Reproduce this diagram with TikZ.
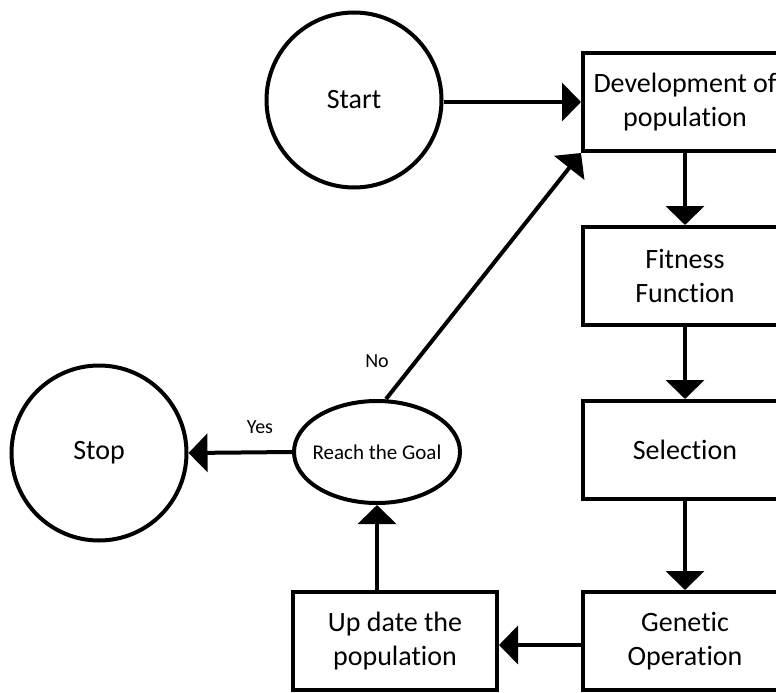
\documentclass[tikz,border=0pt]{standalone}
\usepackage{fontspec}
\setmainfont{Carlito}[Ligatures={NoCommon}]
\usetikzlibrary{arrows.meta,shapes.geometric}
\begin{document}
\begin{tikzpicture}[x=1pt,y=-1pt,
  every node/.style={inner sep=0pt, line width=4pt},
  stepbox/.style={draw, rectangle, minimum width=204pt, minimum height=98pt,
    align=center, font=\fontsize{28}{34}\selectfont},
  terminal/.style={draw, circle, minimum size=175pt, font=\fontsize{28}{34}\selectfont},
  decision/.style={draw, ellipse, minimum width=166pt, minimum height=102pt},
  flow/.style={line width=4pt, -{Triangle[length=19pt,width=38pt]}},
  lbl/.style={font=\fontsize{20}{24}\selectfont}
]
\useasboundingbox (0,0) rectangle (776,693);
\clip (0,0) rectangle (776,693);

% terminals
\node[terminal] (start) at (354,100) {Start};
\node[terminal] (stop) at (99,453) {Stop};

% process steps
\node[stepbox] (dev) at (685,102) {Development of\\population};
\node[stepbox] (fit) at (685,276) {Fitness\\Function};
\node[stepbox] (sel) at (685,450) {Selection};
\node[stepbox] (gen) at (685,641) {Genetic\\Operation};
\node[stepbox] (upd) at (395,641) {Up date the\\population};

% decision (text placed as a centred label so the ellipse keeps its size)
\node[decision, label={[font=\fontsize{21}{25}\selectfont]center:Reach the Goal}]
  (goal) at (377,452) {};

% connectors
\draw[flow] (start.east |- dev.west) -- (dev.west);
\draw[flow] (dev) -- (fit);
\draw[flow] (fit) -- (sel);
\draw[flow] (sel) -- (gen);
\draw[flow] ([yshift=-4pt]gen.west) -- ([yshift=-4pt]upd.east);
\draw[flow] (goal.south |- upd.north) -- (goal.south);
\draw[flow] (goal.west) -- (stop.east);
\draw[flow] ([xshift=9pt]goal.north) -- (dev.south west);

% branch labels
\node[lbl] (yes) at (260,427) {Yes};
\node[lbl] (no) at (377,361) {No};
\end{tikzpicture}
\end{document}
